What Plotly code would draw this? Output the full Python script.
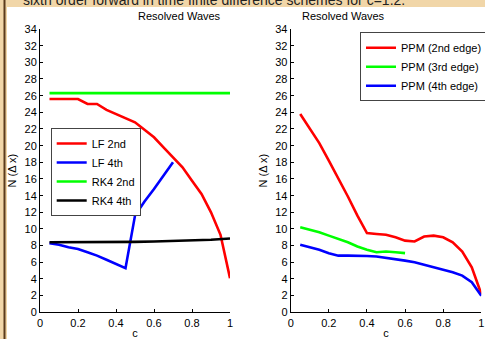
import plotly.graph_objects as go

W, H = 485, 339

# ---- data ----
c_lf2 = [0.05,0.1,0.15,0.2,0.25,0.3,0.35,0.4,0.45,0.5,0.55,0.6,0.65,0.7,0.75,0.8,0.85,0.9,0.95,1.0]
n_lf2 = [25.6,25.6,25.6,25.6,25.0,25.0,24.3,23.8,23.3,22.8,21.9,21.0,19.8,18.6,17.4,15.8,14.2,12.0,9.3,4.1]
c_lf4 = [0.05,0.1,0.15,0.2,0.25,0.3,0.35,0.4,0.45,0.5,0.55,0.6,0.65,0.7]
n_lf4 = [8.3,8.1,7.8,7.6,7.2,6.8,6.3,5.8,5.3,11.6,13.3,14.8,16.4,18.0]
c_rk2 = [0.05,0.25,0.5,0.75,1.0]
n_rk2 = [26.3,26.3,26.3,26.3,26.3]
c_rk4 = [0.05,0.2,0.4,0.5,0.6,0.7,0.8,0.9,1.0]
n_rk4 = [8.4,8.4,8.4,8.45,8.5,8.55,8.6,8.7,8.85]

c_ppm = [0.05,0.1,0.15,0.2,0.25,0.3,0.35,0.4,0.45,0.5,0.55,0.6,0.65,0.7,0.75,0.8,0.85,0.9,0.95,1.0]
n_ppm2 = [23.8,22.0,20.3,18.2,16.1,13.9,11.6,9.5,9.4,9.3,9.0,8.6,8.5,9.1,9.2,9.0,8.4,7.3,5.4,2.2]
c_ppm3 = [0.05,0.1,0.15,0.2,0.25,0.3,0.35,0.4,0.45,0.5,0.55,0.6]
n_ppm3 = [10.2,9.9,9.6,9.2,8.8,8.4,7.9,7.5,7.2,7.3,7.2,7.1]
n_ppm4 = [8.1,7.8,7.5,7.1,6.8,6.8,6.8,6.75,6.7,6.55,6.4,6.2,6.0,5.7,5.4,5.1,4.8,4.4,3.6,2.0]

xticks = [0, 0.2, 0.4, 0.6, 0.8, 1]
xticklabels = ["0", "0.2", "0.4", "0.6", "0.8", "1"]
yticks = list(range(0, 35, 2))

FONT = "Liberation Sans, Arial, sans-serif"
LW = 2.6

fig = go.Figure()

def add(x, y, name, color, xa, ya, legend):
    fig.add_trace(go.Scatter(x=x, y=y, name=name, mode="lines",
                             line=dict(color=color, width=LW),
                             xaxis=xa, yaxis=ya, legend=legend))

add(c_lf2, n_lf2, "LF 2nd", "#ff0000", "x", "y", "legend")
add(c_lf4, n_lf4, "LF 4th", "#0000ff", "x", "y", "legend")
add(c_rk2, n_rk2, "RK4 2nd", "#00ff00", "x", "y", "legend")
add(c_rk4, n_rk4, "RK4 4th", "#000000", "x", "y", "legend")
add(c_ppm, n_ppm2, "PPM (2nd edge)", "#ff0000", "x2", "y2", "legend2")
add(c_ppm3, n_ppm3, "PPM (3rd edge)", "#00ff00", "x2", "y2", "legend2")
add(c_ppm, n_ppm4, "PPM (4th edge)", "#0000ff", "x2", "y2", "legend2")

def px(x):
    return x / W
def py(y):
    return 1 - y / H

ydom = [py(312.3), py(29)]
xax = dict(range=[0, 1], tickvals=xticks, ticktext=xticklabels, showline=True,
           linecolor="#000", linewidth=1, ticks="inside", ticklen=3, tickcolor="#000",
           showgrid=False, zeroline=False, mirror=False, automargin=False,
           tickfont=dict(family=FONT, size=11, color="#000"),
           title=dict(text="c", font=dict(family=FONT, size=11, color="#000"), standoff=2))
yax = dict(range=[0, 34], tickvals=yticks, showline=True, linecolor="#000", linewidth=1,
           ticks="inside", ticklen=3, tickcolor="#000", showgrid=False, zeroline=False,
           automargin=False,
           tickfont=dict(family=FONT, size=11, color="#000"),
           title=dict(text="N (Δ x)", font=dict(family=FONT, size=11, color="#000"), standoff=5),
           domain=ydom)

leg = dict(bgcolor="#ffffff", bordercolor="#444444", borderwidth=1,
           font=dict(family=FONT, size=11, color="#000"), xanchor="left", yanchor="top",
           tracegroupgap=0, itemwidth=30)

fig.update_layout(
    width=W, height=H, margin=dict(l=0, r=0, t=0, b=0, autoexpand=False),
    paper_bgcolor="#f1d6a8", plot_bgcolor="rgba(0,0,0,0)",
    showlegend=True,
    xaxis=dict(xax, domain=[px(40), px(230)], anchor="y"),
    yaxis=dict(yax, anchor="x"),
    xaxis2=dict(xax, domain=[px(290.7), px(481.3)], anchor="y2"),
    yaxis2=dict(yax, anchor="x2"),
    legend=dict(leg, x=px(50.7), y=py(128)),
    legend2=dict(leg, x=px(360), y=py(32.3)),
    shapes=[
        dict(type="rect", xref="paper", yref="paper", x0=px(7), x1=1.01, y0=-0.01, y1=py(7),
             fillcolor="#ffffff", line=dict(width=0), layer="below"),
        dict(type="rect", xref="paper", yref="paper", x0=px(3.5), x1=px(5.5), y0=-0.01, y1=1.01,
             fillcolor="#5b3b1c", line=dict(width=0), layer="below"),
    ],
    annotations=[
        dict(text="Resolved Waves", x=px(136), y=py(16), xref="paper", yref="paper",
             showarrow=False, font=dict(family=FONT, size=11, color="#000"), yanchor="middle"),
        dict(text="Resolved Waves", x=px(387), y=py(16), xref="paper", yref="paper",
             showarrow=False, font=dict(family=FONT, size=11, color="#000"), yanchor="middle"),
        dict(text="sixth order forward in time finite difference schemes for c=1.2.",
             x=px(21), y=py(0), xref="paper", yref="paper", xanchor="left", yanchor="middle",
             showarrow=False, font=dict(family=FONT, size=14, color="#222")),
    ],
)

fig.write_html("out.html", config={"displayModeBar": False},
               post_script="document.body.style.margin='0';document.body.style.overflow='hidden';")
